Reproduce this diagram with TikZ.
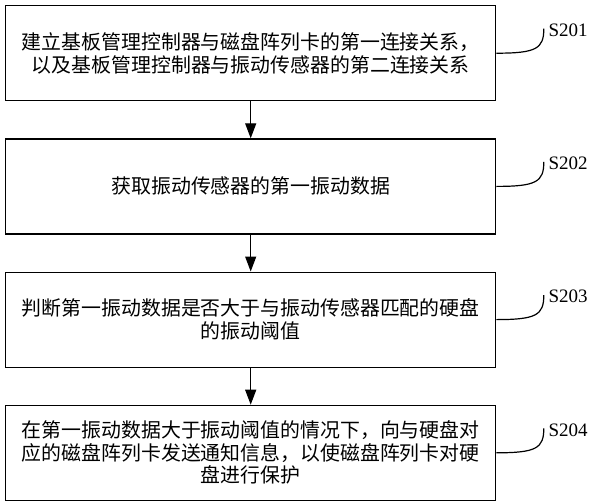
\documentclass[tikz,border=0pt]{standalone}
\usepackage{fontspec}
\setmainfont{Noto Sans CJK SC}
\newfontfamily\stepfont{Liberation Serif}
\usetikzlibrary{arrows.meta,positioning}
\tikzstyle{stepbox}=[
	rectangle,
	draw=black,
	line width=1.2pt,
	minimum width=490pt,
	minimum height=95pt,
	align=center,
	font=\fontsize{19.9}{22.5}\selectfont,
	node distance=37pt
]
\tikzstyle{flow}=[
	<-,
	>={Triangle[length=15pt,width=11pt]},
	line width=1.2pt
]
\tikzstyle{steplabel}=[
	inner sep=0pt,
	font=\stepfont\fontsize{19}{19}\selectfont
]
\tikzstyle{leader}=[
	line width=1.2pt
]

\begin{document}
\begin{tikzpicture}
\useasboundingbox (0,0) rectangle (593pt,-500pt);
\node [stepbox] (S201) at (250.7pt,-53.2pt) {建立基板管理控制器与磁盘阵列卡的第一连接关系，\\以及基板管理控制器与振动传感器的第二连接关系};
\node [stepbox] (S202) [below=of S201] {获取振动传感器的第一振动数据}
	edge [flow] (S201);
\node [stepbox] (S203) [below=of S202] {判断第一振动数据是否大于与振动传感器匹配的硬盘\\的振动阈值}
	edge [flow] (S202);
\node [stepbox] (S204) [below=of S203] {在第一振动数据大于振动阈值的情况下，向与硬盘对\\应的磁盘阵列卡发送通知信息，以使磁盘阵列卡对硬\\盘进行保护}
	edge [flow] (S203);

\node [steplabel] (S201label) [right=52pt of S201.east, yshift=23pt] {S201};
\node [steplabel] (S202label) [right=52pt of S202.east, yshift=23pt] {S202};
\node [steplabel] (S203label) [right=52pt of S203.east, yshift=23pt] {S203};
\node [steplabel] (S204label) [right=52pt of S204.east, yshift=23pt] {S204};
\draw [leader] (S201.east) .. controls +(40pt,0) and +(0,-20pt) .. ([shift={(-4.5pt,1.5pt)}]S201label.west);
\draw [leader] (S202.east) .. controls +(40pt,0) and +(0,-20pt) .. ([shift={(-4.5pt,1.5pt)}]S202label.west);
\draw [leader] (S203.east) .. controls +(40pt,0) and +(0,-20pt) .. ([shift={(-4.5pt,1.5pt)}]S203label.west);
\draw [leader] (S204.east) .. controls +(40pt,0) and +(0,-20pt) .. ([shift={(-4.5pt,1.5pt)}]S204label.west);
\end{tikzpicture}
\end{document}
